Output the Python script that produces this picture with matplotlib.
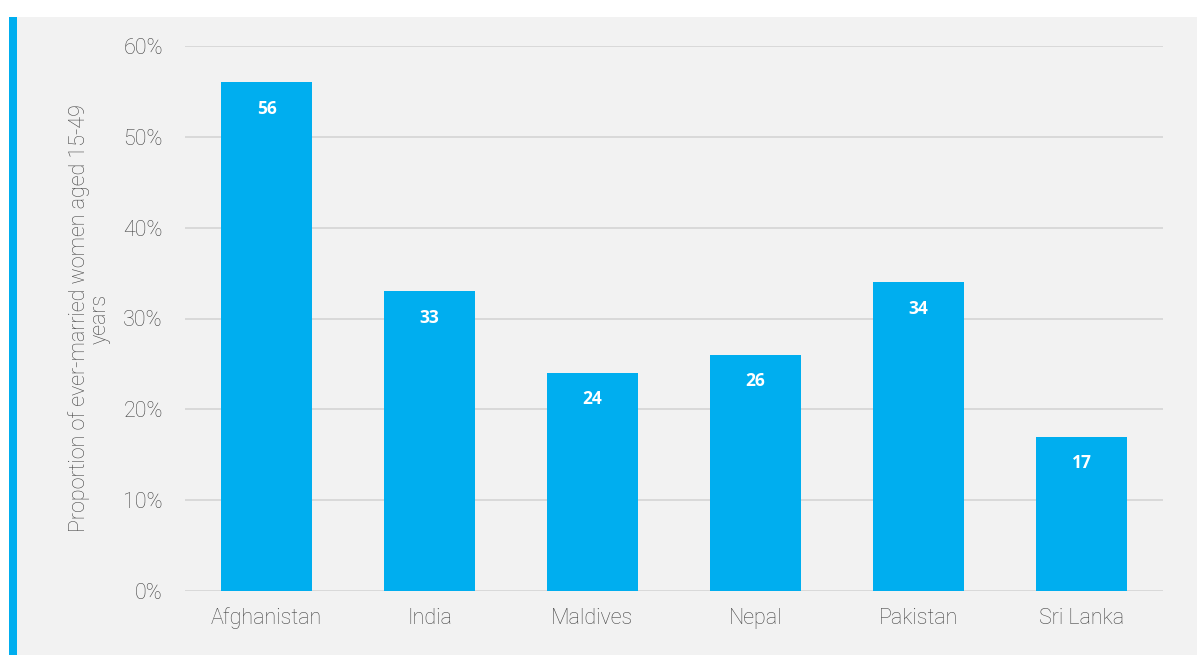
import matplotlib
matplotlib.use("Agg")
import matplotlib.pyplot as plt
from matplotlib.patches import Rectangle
from matplotlib.ticker import FuncFormatter

countries = ["Afghanistan", "India", "Maldives", "Nepal", "Pakistan", "Sri Lanka"]
values = [56, 33, 24, 26, 34, 17]
yticks = [0, 10, 20, 30, 40, 50, 60]
ylabel = "Proportion of ever-married women aged 15-49\nyears"

blue = "#00aeef"
panel = "#f2f2f2"
grey_text = "#454545"

fig = plt.figure(figsize=(11.97, 6.55), dpi=100)
fig.patch.set_facecolor("white")

# grey panel with the blue stripe on its left edge
fig.patches.append(Rectangle((9 / 1197, 0), 1 - 9 / 1197, 1 - 17 / 655,
                             transform=fig.transFigure, facecolor=panel,
                             edgecolor="none", zorder=-2))
fig.patches.append(Rectangle((9 / 1197, 0), 8 / 1197, 1 - 17 / 655,
                             transform=fig.transFigure, facecolor=blue,
                             edgecolor="none", zorder=-1))

ax = fig.add_axes([185 / 1197, 64 / 655, 978 / 1197, 545 / 655])
ax.set_facecolor("none")

x = range(len(countries))
bars = ax.bar(x, values, width=0.56, color=blue, zorder=3)
for b, v in zip(bars, values):
    ax.annotate(str(v), (b.get_x() + b.get_width() / 2, v),
                xytext=(0, -19), textcoords="offset points",
                ha="center", va="center", color="white",
                fontsize=12.5, fontweight="bold", family="Open Sans", zorder=4)

ax.set_xlim(-0.5, len(countries) - 0.5)
ax.set_ylim(0, 60)
ax.set_yticks(yticks)
ax.yaxis.set_major_formatter(FuncFormatter(lambda v, _: f"{v:.0f}%"))
ax.set_xticks(list(x))
ax.set_xticklabels(countries)
ax.grid(axis="y", color="#d9d9d9", linewidth=1.4, zorder=0)
ax.set_axisbelow(True)
for s in ax.spines.values():
    s.set_visible(False)
ax.tick_params(length=0, labelsize=15.5, labelcolor=grey_text, pad=12)
ax.tick_params(axis="y", pad=16)
for lbl in ax.get_xticklabels() + ax.get_yticklabels():
    lbl.set_family("Roboto")
    lbl.set_fontweight("light")

ax.set_ylabel(ylabel, fontsize=15.5, color=grey_text, family="Roboto",
              fontweight="light", linespacing=1.0, labelpad=9)

fig.savefig("out.png", dpi=100)
